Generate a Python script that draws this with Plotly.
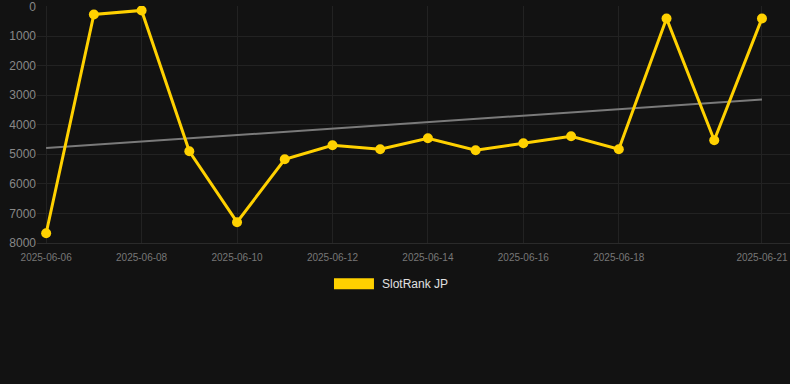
import numpy as np
import pandas as pd
import plotly.graph_objects as go

dates = pd.date_range("2025-06-06", "2025-06-21", freq="D")
rank_values = [7670, 270, 135, 4899, 7297, 5169, 4696, 4831, 4459, 4865, 4628, 4392, 4831, 405, 4527, 405]
series_name = "SlotRank JP"
tick_dates = ["2025-06-06", "2025-06-08", "2025-06-10", "2025-06-12", "2025-06-14",
              "2025-06-16", "2025-06-18", "2025-06-21"]
y_ticks = [0, 1000, 2000, 3000, 4000, 5000, 6000, 7000, 8000]

# linear trend from the data
xi = np.arange(len(rank_values))
slope, intercept = np.polyfit(xi, rank_values, 1)
trend = intercept + slope * xi

GOLD = "#FFD100"
BG = "#121212"

fig = go.Figure()
fig.add_trace(go.Scatter(
    x=[dates[0], dates[-1]], y=[trend[0], trend[-1]], mode="lines",
    line=dict(color="#7a7a7a", width=2), showlegend=False, hoverinfo="skip"))
fig.add_trace(go.Scatter(
    x=dates, y=rank_values, mode="lines+markers", name=series_name,
    line=dict(color=GOLD, width=3),
    marker=dict(color=GOLD, size=10), showlegend=False))

x0 = pd.Timestamp("2025-06-06") - pd.Timedelta(hours=4.6)
x1 = pd.Timestamp("2025-06-21") + pd.Timedelta(hours=14.1)

# legend drawn as swatch + text (wide rectangular swatch)
fig.add_shape(type="rect", xref="paper", yref="paper",
              x0=0.3944, x1=0.4475, y0=-0.195, y1=-0.149,
              fillcolor=GOLD, line=dict(width=0))
fig.add_annotation(xref="paper", yref="paper", x=0.4555, y=-0.172,
                   xanchor="left", yanchor="middle", showarrow=False,
                   text=series_name, font=dict(color="#e0e0e0", size=12))

fig.update_layout(
    width=790, height=384,
    paper_bgcolor=BG, plot_bgcolor=BG,
    margin=dict(l=37, r=0, t=6, b=141),
    font=dict(family="Liberation Sans, Arial, sans-serif"),
    showlegend=False,
    xaxis=dict(range=[x0, x1], tickvals=[pd.Timestamp(d) for d in tick_dates],
               ticktext=tick_dates, tickfont=dict(color="#777777", size=10),
               showgrid=True, gridcolor="#222222", gridwidth=1,
               zeroline=False, showline=True, linecolor="#2a2a2a",
               ticks="outside", ticklen=5, tickcolor="rgba(0,0,0,0)",
               ticklabeloverflow="allow"),
    yaxis=dict(range=[8000, -15], tickvals=y_ticks, tickfont=dict(color="#888888", size=12),
               showgrid=True, gridcolor="#222222", gridwidth=1, zeroline=False,
               showline=False, ticks="", ticklabeloverflow="allow"),
)

fig.write_html("out.html", config={"displayModeBar": False},
               post_script="document.body.style.margin='0';document.body.style.background='#121212';")
